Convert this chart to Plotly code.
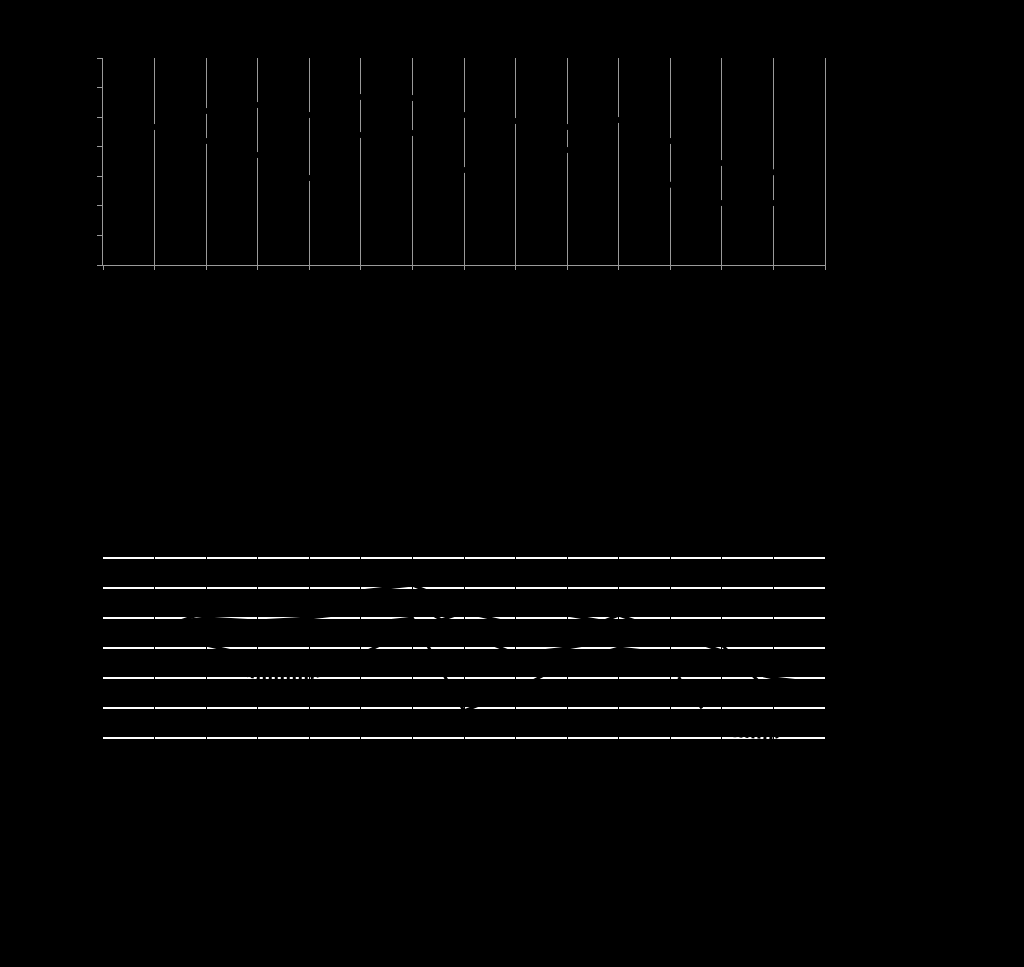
import plotly.graph_objs as go
from plotly.subplots import make_subplots

# categories shared by both panels
years = ['2006', '2007', '2008', '2009', '2010', '2011', '2012', '2013',
         '2014', '2015', '2016', '2017', '2018', '2019', '2020']

# top panel, two series (None = no value)
upper_vals = [None, 46.7, 52.1, 54.1, 50.7, 56.8, 56.5, 50.7,
              48.7, 46.7, 49.0, 41.9, 34.5, 31.4, None]
lower_vals = [None, None, 41.9, 37.2, 29.4, 44.0, 44.6, 32.1,
              None, 38.9, None, 27.1, 21.0, 21.0, None]

# bottom panel series
s1 = [35, 36, 42, 44, 41, 49, 51, 44, 43, 41, 38, 36, 33, 32, 32]
s2 = [33, 34, 31, 27, 25, 28, 36, 42, 38, 34, 41, 35, 29, 25, 22]
s3 = [28, 27, 24, 20, 20, 24, 26, 22, 25, 27, 26, 24, 1, 0, 6]
s4 = [36, 38, 40, 39, 40, 42, 45, 35, 28, 30, 33, 37, 31, 14, 12]
s5 = [34, 33, 36, 34, 32, 38, 40, 9, 16, 25, 30, 28, 24, 20, 18]

fig = make_subplots(rows=2, cols=1, vertical_spacing=0.0)

# top panel
fig.add_trace(go.Scatter(x=years, y=upper_vals, mode='lines+markers',
                         line=dict(color='black', width=2),
                         marker=dict(color='black', size=6),
                         name='Upper', showlegend=False), row=1, col=1)
fig.add_trace(go.Scatter(x=years, y=lower_vals, mode='lines+markers',
                         line=dict(color='black', width=2),
                         marker=dict(color='black', size=6),
                         name='Lower', showlegend=False), row=1, col=1)

# bottom panel
for name, vals, dash in [('A', s1, 'solid'), ('B', s2, 'solid'),
                         ('C', s3, 'dot'), ('D', s4, 'solid'),
                         ('E', s5, 'solid')]:
    fig.add_trace(go.Scatter(x=years, y=vals, mode='lines',
                             line=dict(color='black', width=3, dash=dash),
                             name=name, showlegend=False), row=2, col=1)

fig.update_layout(
    width=1024, height=967,
    margin=dict(l=103, r=199, t=58, b=226),
    paper_bgcolor='black', plot_bgcolor='black',
    font=dict(family='Liberation Sans', size=12, color='black'),
    showlegend=False,
)

fig.update_xaxes(domain=[0, 1])
fig.update_xaxes(row=1, col=1, type='category', range=[0, 14],
                 showgrid=True, gridcolor='#9a9a9a', gridwidth=1,
                 showline=True, linecolor='#9a9a9a', linewidth=1,
                 ticks='outside', ticklen=4, tickcolor='#9a9a9a',
                 zeroline=False)
fig.update_yaxes(row=1, col=1, domain=[0.6969, 1.0], range=[0, 70], dtick=10,
                 showgrid=False, showline=True, mirror=True,
                 linecolor='#9a9a9a', linewidth=1,
                 ticks='outside', ticklen=5, tickcolor='#9a9a9a',
                 zeroline=False)

# bottom panel: white horizontal grid, thin dark verticals
fig.update_xaxes(row=2, col=1, type='category', range=[0, 14],
                 showgrid=False, showline=False, zeroline=False,
                 ticks='inside', ticklen=186, tickcolor='black', tickwidth=1,
                 showticklabels=False)
fig.update_yaxes(row=2, col=1, domain=[0.0, 0.2723], range=[-1, 61], dtick=10,
                 showgrid=True, gridcolor='white', gridwidth=2,
                 showline=False, zeroline=False)

fig.write_html("out.html", config={'displayModeBar': False},
               post_script="document.body.style.margin='0';"
                           "document.body.style.background='black';")
